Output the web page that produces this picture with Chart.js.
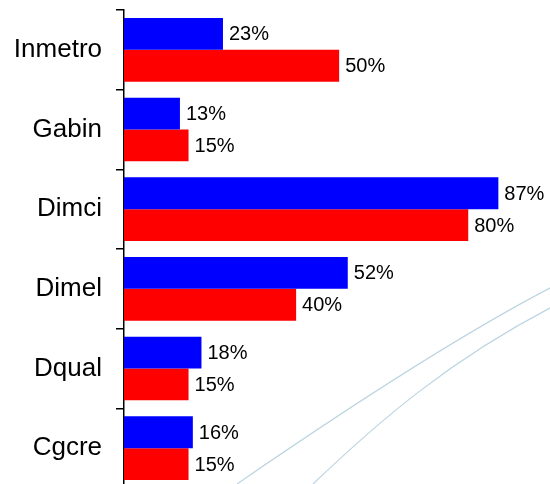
<!DOCTYPE html>
<html>
<head>
<meta charset="utf-8">
<script src="https://cdn.jsdelivr.net/npm/chart.js@4"></script>
<style>
  html, body { margin: 0; padding: 0; overflow: hidden; background: #fff; }
  #wrap { position: relative; width: 550px; height: 490px; }
</style>
</head>
<body>
<div id="wrap"><canvas id="chart"></canvas></div>
<script>
const categories = ['Inmetro', 'Gabin', 'Dimci', 'Dimel', 'Dqual', 'Cgcre']
const blueValues = [23, 13, 87, 52, 18, 16]
const redValues = [50, 15, 80, 40, 15, 15]

// value labels to the right of each bar
const valueLabels = {
  id: 'valueLabels',
  afterDatasetsDraw(chart) {
    const ctx = chart.ctx
    ctx.save()
    ctx.font = '20px "Liberation Sans", Arial, sans-serif'
    ctx.fillStyle = '#000'
    ctx.textAlign = 'left'
    ctx.textBaseline = 'middle'
    chart.data.datasets.forEach((ds, i) => {
      chart.getDatasetMeta(i).data.forEach((bar, j) => {
        ctx.fillText(ds.data[j] + '%', bar.x + 6, bar.y + 1)
      })
    })
    ctx.restore()
  }
}

// faint decorative curves in the lower right corner
const backdrop = {
  id: 'backdrop',
  beforeDraw(chart) {
    const ctx = chart.ctx
    ctx.save()
    ctx.strokeStyle = '#bcd5e2'
    ctx.lineWidth = 1.2
    ctx.beginPath()
    ctx.moveTo(237, 484)
    ctx.bezierCurveTo(330, 420, 450, 340, 552, 287)
    ctx.stroke()
    ctx.beginPath()
    ctx.moveTo(313, 484)
    ctx.bezierCurveTo(380, 420, 450, 360, 552, 307)
    ctx.stroke()
    ctx.restore()
  }
}

const context = document.getElementById('chart').getContext('2d')

new Chart(context, {
  type: 'bar',
  data: {
    labels: categories,
    datasets: [{
      data: blueValues,
      backgroundColor: '#0000ff',
      categoryPercentage: 0.8,
      barPercentage: 1.0
    }, {
      data: redValues,
      backgroundColor: '#ff0000',
      categoryPercentage: 0.8,
      barPercentage: 1.0
    }]
  },
  options: {
    indexAxis: 'y',
    responsive: true,
    maintainAspectRatio: false,
    animation: false,
    layout: { padding: { top: 10, bottom: 2, right: 0, left: 0 } },
    plugins: {
      legend: { display: false },
      tooltip: { enabled: false }
    },
    scales: {
      x: {
        display: false,
        min: 0,
        max: 99
      },
      y: {
        offset: true,
        afterFit(scale) {
          scale.width = 124
          scale.paddingTop = 0
          scale.paddingBottom = 0
        },
        border: { display: true, color: '#000', width: 1.5 },
        grid: {
          offset: true,
          drawOnChartArea: false,
          color: '#000',
          lineWidth: 1.5,
          tickLength: 8
        },
        ticks: {
          color: '#000',
          padding: 14,
          font: { size: 26, family: '"Liberation Sans", Arial, sans-serif' }
        }
      }
    }
  },
  plugins: [backdrop, valueLabels]
})
</script>
</body>
</html>
